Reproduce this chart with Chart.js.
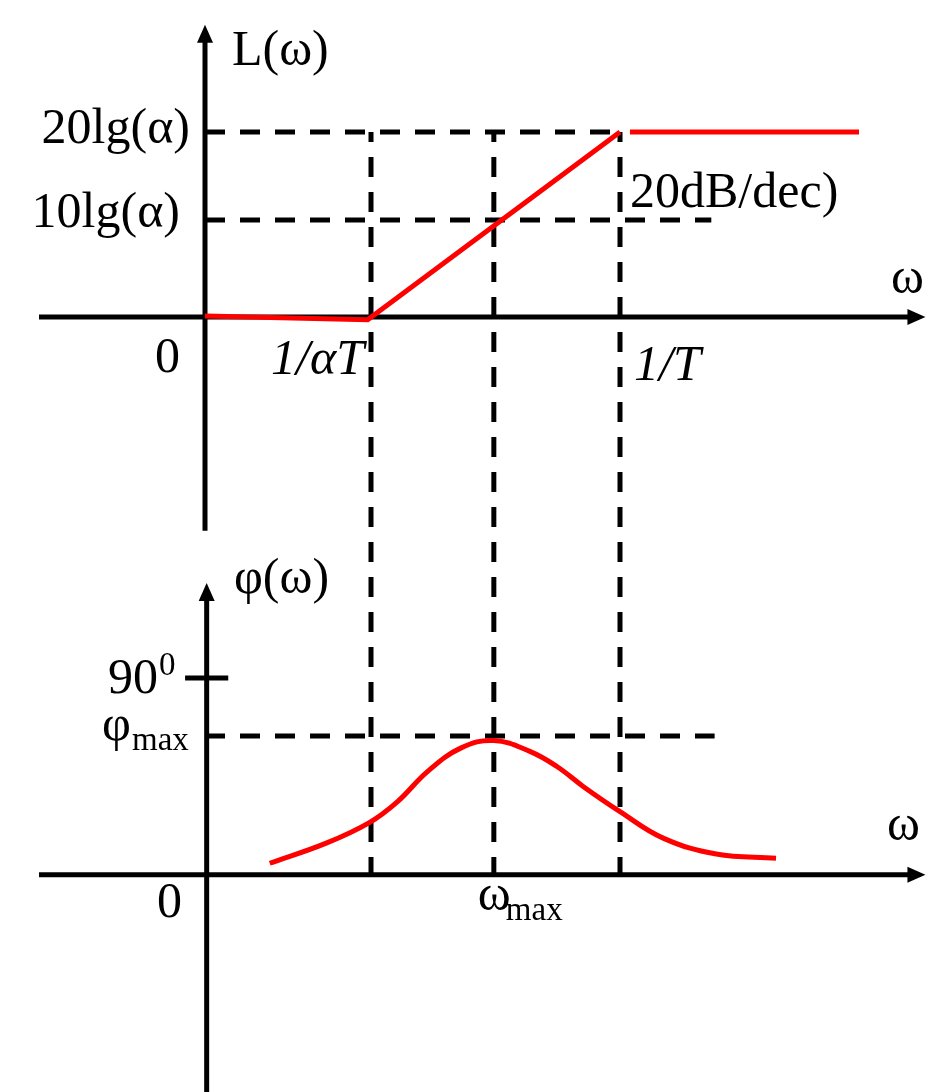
<!DOCTYPE html>
<html>
<head>
<meta charset="utf-8">
<script src="https://cdn.jsdelivr.net/npm/chart.js@4"></script>
<style>
body{margin:0;background:#fff;}
canvas{display:block;}
</style>
</head>
<body>
<canvas id="bode" width="951" height="1092"></canvas>
<script>
// corner frequencies on the ω axis (lg units, 0 = vertical axis)
const omegaMarks=[1,1.74,2.5];
const omegaLabels=["1/αT","ω","1/T"];

// asymptotic magnitude L(ω)
const magX=[0,0.98,2.5];
const magY=[0.1,-0.3,20];
const flatX=[2.56,3.94];
const flatY=[20,20];

// dashed levels on the magnitude plot
const magLevels=[20,10.5];
const magLevelLabels=["20lg(α)","10lg(α)"];
const magLevelEnds=[2.5,3.05];

// phase φ(ω) in degrees
const phaseX=[0.39,0.73,0.99,1.16,1.34,1.54,1.74,1.96,2.12,2.28,2.5,2.76,3.08,3.44];
const phaseY=[5.3,14.5,23.9,33.5,47.2,57.9,61.4,56.3,49.5,40.3,28.9,16.8,9.5,7.6];
const phaseTick=90;
const phaseMax=63.5;
const phaseMaxEnd=3.07;

const serif='"Liberation Serif", "Times New Roman", serif';

function pts(xs,ys){
return xs.map((x,i)=>({x:x,y:ys[i]}));
}

function arrowAxis(c,x1,y1,x2,y2){
const a=Math.atan2(y2-y1,x2-x1);
c.beginPath();
c.moveTo(x1,y1);
c.lineTo(x2-10*Math.cos(a),y2-10*Math.sin(a));
c.stroke();
c.beginPath();
c.moveTo(x2,y2);
c.lineTo(x2-18*Math.cos(a)+8*Math.sin(a),y2-18*Math.sin(a)-8*Math.cos(a));
c.lineTo(x2-18*Math.cos(a)-8*Math.sin(a),y2-18*Math.sin(a)+8*Math.cos(a));
c.closePath();
c.fill();
}

const frame={
id:"frame",
beforeDatasetsDraw(chart){
const c=chart.ctx;
const x=chart.scales.x, yL=chart.scales.yL, yP=chart.scales.yP;
c.save();
c.strokeStyle="#000";
c.fillStyle="#000";
c.lineWidth=5;

// axes
arrowAxis(c,x.getPixelForValue(-1),yL.getPixelForValue(0),x.getPixelForValue(4.34),yL.getPixelForValue(0));
arrowAxis(c,x.getPixelForValue(0),yL.getPixelForValue(-23.1),x.getPixelForValue(0),yL.getPixelForValue(31.6));
arrowAxis(c,x.getPixelForValue(-1),yP.getPixelForValue(0),x.getPixelForValue(4.34),yP.getPixelForValue(0));
arrowAxis(c,x.getPixelForValue(0.01),yP.getPixelForValue(-100),x.getPixelForValue(0.01),yP.getPixelForValue(133.4));

// 90 degree tick
c.beginPath();
c.moveTo(x.getPixelForValue(-0.12),yP.getPixelForValue(phaseTick));
c.lineTo(x.getPixelForValue(0.14),yP.getPixelForValue(phaseTick));
c.stroke();

// dashed guides
c.setLineDash([20,15]);
magLevels.forEach((v,i)=>{
c.beginPath();
c.moveTo(x.getPixelForValue(0),yL.getPixelForValue(v));
c.lineTo(x.getPixelForValue(magLevelEnds[i]),yL.getPixelForValue(v));
c.stroke();
});
c.beginPath();
c.moveTo(x.getPixelForValue(0),yP.getPixelForValue(phaseMax));
c.lineTo(x.getPixelForValue(phaseMaxEnd),yP.getPixelForValue(phaseMax));
c.stroke();
c.lineDashOffset=10;
omegaMarks.forEach(w=>{
c.beginPath();
c.moveTo(x.getPixelForValue(w),yL.getPixelForValue(magLevels[0]));
c.lineTo(x.getPixelForValue(w),yP.getPixelForValue(0));
c.stroke();
});
c.restore();
},
afterDraw(chart){
const c=chart.ctx;
const x=chart.scales.x, yL=chart.scales.yL, yP=chart.scales.yP;
const x0=x.getPixelForValue(0);
const big="50px "+serif, small="33px "+serif, it="italic 50px "+serif;
c.save();
c.fillStyle="#000";
c.textBaseline="alphabetic";

// magnitude plot texts
c.font=big;
c.textAlign="left";
c.fillText("L(ω)",x0+27,65);
c.textAlign="right";
c.fillText(magLevelLabels[0],x0-15,yL.getPixelForValue(magLevels[0])+11);
c.fillText(magLevelLabels[1],x0-25,yL.getPixelForValue(magLevels[1])+7);
c.fillText("0",x0-25,yL.getPixelForValue(0)+55);
c.textAlign="left";
c.fillText("20dB/dec)",x.getPixelForValue(omegaMarks[2])+10,207);
c.fillText("ω",891,yL.getPixelForValue(0)-24);
c.font=it;
c.textAlign="right";
c.fillText(omegaLabels[0],x.getPixelForValue(omegaMarks[0])-7,yL.getPixelForValue(0)+57);
c.textAlign="left";
c.fillText(omegaLabels[2],x.getPixelForValue(omegaMarks[2])+14,yL.getPixelForValue(0)+63);

// phase plot texts
c.font=big;
c.textAlign="left";
c.fillText("φ(ω)",x0+29,593);
c.textAlign="right";
c.fillText("90",158,yP.getPixelForValue(phaseTick)+15);
c.fillText("0",x0-23,yP.getPixelForValue(0)+42);
c.textAlign="left";
c.fillText("φ",102,yP.getPixelForValue(phaseMax)+4);
c.fillText(omegaLabels[1],x.getPixelForValue(omegaMarks[1])-16,yP.getPixelForValue(0)+35);
c.fillText("ω",887,yP.getPixelForValue(0)-35);
c.font=small;
c.fillText("0",159,yP.getPixelForValue(phaseTick)-3);
c.fillText("max",132,yP.getPixelForValue(phaseMax)+14);
c.fillText("max",x.getPixelForValue(omegaMarks[1])+12,yP.getPixelForValue(0)+45);
c.restore();
}
};

const red="#ff0000";

new Chart(document.getElementById("bode"),{
type:"scatter",
data:{
datasets:[
{data:pts(magX,magY),yAxisID:"yL",showLine:true,borderColor:red,borderWidth:5,pointRadius:0,borderJoinStyle:"miter"},
{data:pts(flatX,flatY),yAxisID:"yL",showLine:true,borderColor:red,borderWidth:5,pointRadius:0},
{data:pts(phaseX,phaseY),yAxisID:"yP",showLine:true,borderColor:red,borderWidth:5,pointRadius:0,tension:0.4}
]
},
options:{
responsive:false,
animation:false,
layout:{padding:0},
plugins:{
legend:{display:false},
tooltip:{enabled:false}
},
scales:{
x:{type:"linear",display:false,min:-1.235,max:4.494},
yL:{type:"linear",display:false,position:"left",min:-83.78,max:34.27},
yP:{type:"linear",display:false,position:"left",min:-99.2,max:399.7}
}
},
plugins:[frame]
});
</script>
</body>
</html>
